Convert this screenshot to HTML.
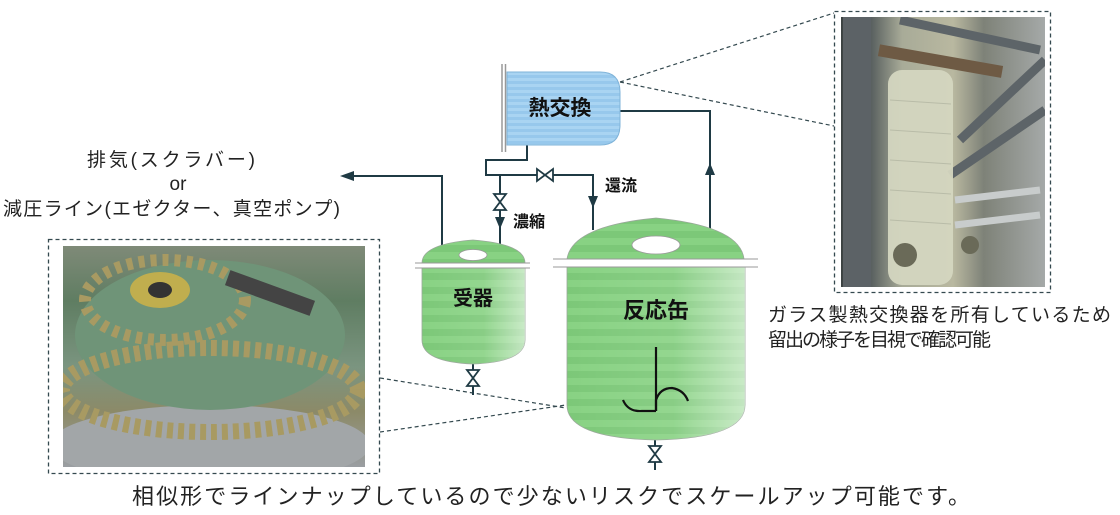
<!DOCTYPE html>
<html><head><meta charset="utf-8"><style>
html,body{margin:0;padding:0;background:#fff;}
svg{display:block;}
text{font-family:"Liberation Sans","Noto Sans CJK JP",sans-serif;}
</style></head><body>
<svg width="1120" height="515" viewBox="0 0 1120 515" xmlns="http://www.w3.org/2000/svg">
<defs>
<pattern id="gs" width="10" height="14" patternUnits="userSpaceOnUse">
<rect width="10" height="14" fill="#88d283"/><rect y="7" width="10" height="7" fill="#7cc878"/>
</pattern>
<linearGradient id="gh" x1="0" x2="1" y1="0" y2="0">
<stop offset="0" stop-color="#fff" stop-opacity="0"/><stop offset="0.6" stop-color="#fff" stop-opacity="0.1"/><stop offset="1" stop-color="#fff" stop-opacity="0.55"/>
</linearGradient>
<pattern id="bs" width="10" height="6" patternUnits="userSpaceOnUse">
<rect width="10" height="6" fill="#a9d4f2"/><rect y="3" width="10" height="3" fill="#97c8ec"/>
</pattern>
<linearGradient id="ph1" x1="0" y1="0" x2="0" y2="1">
<stop offset="0" stop-color="#7f8a78"/><stop offset="0.25" stop-color="#5f7d62"/><stop offset="0.55" stop-color="#7b9580"/><stop offset="0.75" stop-color="#8c8a68"/><stop offset="1" stop-color="#9a9ea2"/>
</linearGradient>
<linearGradient id="ph2" x1="0" y1="0" x2="1" y2="0">
<stop offset="0" stop-color="#3c4242"/><stop offset="0.15" stop-color="#5a6160"/><stop offset="0.3" stop-color="#a8ab98"/><stop offset="0.55" stop-color="#b9b8a0"/><stop offset="0.7" stop-color="#7e8278"/><stop offset="1" stop-color="#a5a9a8"/>
</linearGradient>
<clipPath id="c1"><rect x="63" y="246" width="302" height="221"/></clipPath>
<clipPath id="c2"><rect x="841" y="17" width="204" height="270"/></clipPath>
</defs>

<!-- left photo -->
<rect x="48.5" y="239.5" width="331" height="234" fill="none" stroke="#34494f" stroke-width="1.3" stroke-dasharray="4,3"/>
<g clip-path="url(#c1)">
<rect x="63" y="246" width="302" height="221" fill="url(#ph1)"/>
<ellipse cx="210" cy="445" rx="160" ry="40" fill="#a2a6a8"/>
<ellipse cx="210" cy="335" rx="135" ry="75" fill="#6f9478"/>
<ellipse cx="210" cy="390" rx="148" ry="42" fill="none" stroke="#a89a62" stroke-width="16" stroke-dasharray="6,5"/>
<ellipse cx="165" cy="300" rx="80" ry="40" fill="none" stroke="#a89a62" stroke-width="12" stroke-dasharray="6,6"/>
<ellipse cx="160" cy="290" rx="30" ry="18" fill="#c0ae4e"/>
<ellipse cx="160" cy="290" rx="12" ry="8" fill="#333"/>
<rect x="225" y="285" width="90" height="16" fill="#444" transform="rotate(20 270 293)"/>
</g>

<!-- right photo -->
<rect x="834.5" y="11.5" width="216" height="281" fill="none" stroke="#34494f" stroke-width="1.3" stroke-dasharray="4,3"/>
<g clip-path="url(#c2)">
<rect x="841" y="17" width="204" height="270" fill="url(#ph2)"/>
<g stroke="#5d6468" stroke-width="9" fill="none">
<line x1="960" y1="140" x2="1045" y2="60"/>
<line x1="950" y1="175" x2="1045" y2="110"/>
<line x1="900" y1="20" x2="1040" y2="50"/>
</g>
<g stroke="#c8cccc" stroke-width="7"><line x1="955" y1="200" x2="1040" y2="190"/><line x1="955" y1="225" x2="1040" y2="215"/></g>
<rect x="888" y="70" width="65" height="215" rx="14" fill="#d4d6c0" opacity="0.95"/>
<g stroke="#b9bca8" stroke-width="1">
<line x1="890" y1="100" x2="951" y2="104"/><line x1="890" y1="130" x2="951" y2="134"/><line x1="890" y1="160" x2="951" y2="164"/><line x1="890" y1="190" x2="951" y2="194"/><line x1="890" y1="220" x2="951" y2="224"/>
</g>
<rect x="878" y="55" width="125" height="12" fill="#6e5a44" transform="rotate(10 940 61)"/>
<rect x="843" y="17" width="28" height="270" fill="#5c6266"/>
<circle cx="905" cy="255" r="12" fill="#6a6a58"/><circle cx="970" cy="245" r="9" fill="#6a6a58"/>
</g>

<!-- dashed leaders -->
<g stroke="#34494f" stroke-width="1.2" stroke-dasharray="4,3" fill="none">
<line x1="380" y1="378" x2="566" y2="408"/>
<line x1="380" y1="432" x2="566" y2="405"/>
<line x1="620" y1="82" x2="834" y2="13"/>
<line x1="620" y1="82" x2="834" y2="126"/>
</g>

<!-- pipes -->
<g stroke="#1f3a44" stroke-width="2" fill="none">
<polyline points="620,111 710,111 710,230"/>
<polyline points="527,145 527,160 486,160 486,175 593,175 593,230"/>
<line x1="500" y1="175" x2="500" y2="245"/>
<polyline points="442,245 442,176 350,176"/>
<line x1="473" y1="362" x2="473" y2="395"/>
<line x1="655" y1="440" x2="655" y2="470"/>
</g>
<g fill="#1f3a44">
<polygon points="340,176 354,171 354,181"/>
<polygon points="710,163 705,175 715,175"/>
<polygon points="593,208 588,196 598,196"/>
<polygon points="500,229 495,217 505,217"/>
</g>
<g fill="#fff" stroke="#1f3a44" stroke-width="1.8">
<polygon points="537,169 537,181 553,169 553,181"/>
<polygon points="494,194 506,194 494,210 506,210"/>
<polygon points="467,370 479,370 467,386 479,386"/>
<polygon points="649,446 661,446 649,462 661,462"/>
</g>

<!-- heat exchanger -->
<line x1="502" y1="64" x2="502" y2="152" stroke="#999" stroke-width="1.5"/>
<line x1="505.5" y1="64" x2="505.5" y2="152" stroke="#999" stroke-width="1.5"/>
<path d="M507,72 H600 Q620,72 620,92 V125 Q620,145 600,145 H507 Z" fill="url(#bs)" stroke="#7fb3d8" stroke-width="1"/>
<text x="560" y="115" font-size="21" font-weight="bold" text-anchor="middle" fill="#111">熱交換</text>

<!-- receiver -->
<path d="M422,263 Q422,244 473,240 Q525,244 525,263 Z" fill="url(#gs)" stroke="#9aa89a" stroke-width="0.8"/>
<path d="M422,268 H525 V340 Q525,362 473,364 Q422,362 422,340 Z" fill="url(#gs)" stroke="#9aa89a" stroke-width="0.8"/>
<path d="M422,268 H525 V340 Q525,362 473,364 Q422,362 422,340 Z" fill="url(#gh)"/>
<line x1="415" y1="263" x2="530" y2="263" stroke="#999" stroke-width="1"/>
<line x1="415" y1="268" x2="530" y2="268" stroke="#999" stroke-width="1"/>
<ellipse cx="473" cy="255" rx="14" ry="5.5" fill="#fff" stroke="#999" stroke-width="0.8"/>
<text x="473" y="305" font-size="20" font-weight="bold" text-anchor="middle" fill="#111">受器</text>

<!-- reactor -->
<path d="M567,259 Q572,226 656,218 Q740,226 744,259 Z" fill="url(#gs)" stroke="#9aa89a" stroke-width="0.8"/>
<path d="M567,267 H745 V405 Q745,438 656,440 Q567,438 567,405 Z" fill="url(#gs)" stroke="#9aa89a" stroke-width="0.8"/>
<path d="M567,267 H745 V405 Q745,438 656,440 Q567,438 567,405 Z" fill="url(#gh)"/>
<line x1="553" y1="259" x2="758" y2="259" stroke="#999" stroke-width="1"/>
<line x1="553" y1="267" x2="758" y2="267" stroke="#999" stroke-width="1"/>
<ellipse cx="656" cy="245" rx="24" ry="9" fill="#fff" stroke="#999" stroke-width="0.8"/>
<text x="656" y="318" font-size="22" font-weight="bold" text-anchor="middle" fill="#111">反応缶</text>
<g stroke="#111" stroke-width="2.2" fill="none">
<line x1="656" y1="347" x2="656" y2="411"/>
<path d="M623,400 Q628,412 642,411 H656"/>
<path d="M656,411 V400 Q660,388 672,388 Q684,390 688,401"/>
</g>

<text x="605" y="191" font-size="16" font-weight="bold" fill="#111">還流</text>
<text x="513" y="227" font-size="16" font-weight="bold" fill="#111">濃縮</text>

<g font-size="19" fill="#222">
<text x="87" y="166" textLength="168">排気(スクラバー)</text>
<text x="178" y="190" text-anchor="middle">or</text>
<text x="3" y="215" textLength="337">減圧ライン(エゼクター、真空ポンプ)</text>
<text x="768" y="321" textLength="343">ガラス製熱交換器を所有しているため</text>
<text x="768" y="346" textLength="223">留出の様子を目視で確認可能</text>
<text x="132" y="504" font-size="22" textLength="838">相似形でラインナップしているので少ないリスクでスケールアップ可能です。</text>
</g>
</svg>
</body></html>
